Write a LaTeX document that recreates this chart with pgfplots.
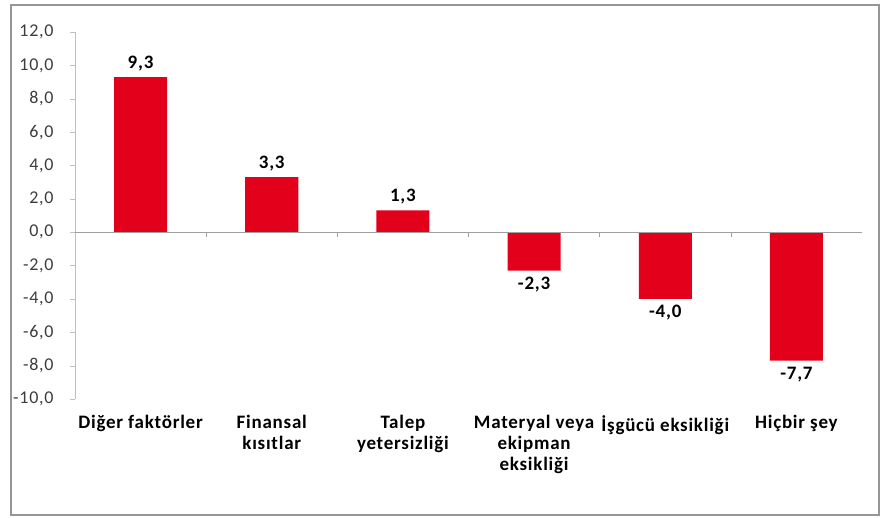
\documentclass[border=0pt]{standalone}
\usepackage{pgfplots}
\pgfplotsset{compat=1.18}
\usepackage{fontspec}
\setmainfont{Carlito}[LetterSpace=4]
\definecolor{barred}{RGB}{226,0,26}
\definecolor{axgray}{RGB}{191,191,191}
\definecolor{zerogray}{RGB}{160,160,160}
\definecolor{txtgray}{RGB}{60,60,60}
\definecolor{framegray}{RGB}{150,150,150}

\begin{document}
\begin{tikzpicture}
% whole image and outer frame, relative to the axis box (787 x 367 bp)
\path (-75bp,-119bp) rectangle (807bp,399bp);
\draw[framegray, line width=2bp] (-64bp,-116bp) rectangle (804bp,394bp);
\begin{axis}[
    at={(0,0)}, anchor=south west,
    scale only axis,
    width=787bp, height=367bp,
    ybar,
    bar width=53bp,
    xmin=-0.5, xmax=5.5,
    ymin=-10, ymax=12,
    enlargelimits=false,
    clip=false,
    axis y line*=left,
    axis x line*=bottom,
    x axis line style={draw=none},
    y axis line style={axgray},
    ytick={-10,-8,...,12},
    ytick style={axgray},
    xtick={0,...,5},
    major x tick style={draw=none},
    tick align=outside,
    major tick length=5bp,
    xticklabels={Diğer faktörler,{Finansal\\kısıtlar},{Talep\\yetersizliği},{Materyal veya\\ekipman\\eksikliği},İşgücü eksikliği,Hiçbir şey},
    x tick label style={font=\fontsize{19bp}{21bp}\selectfont\bfseries, align=center, text=black, yshift=-8bp},
    y tick label style={font=\fontsize{18bp}{20bp}\selectfont, text=txtgray, xshift=-13bp},
    /pgf/number format/.cd, fixed, fixed zerofill, precision=1, use comma, assume math mode=true,
    /pgfplots/.cd,
    nodes near coords={\pgfmathprintnumber[fixed,fixed zerofill,precision=1,use comma,assume math mode=true]{\pgfplotspointmeta}},
    nodes near coords align={vertical},
    every node near coord/.append style={font=\fontsize{19bp}{21bp}\selectfont\bfseries, text=black, inner sep=6bp},
    ]
\addplot[fill=barred, draw=none] coordinates {(0,9.3) (1,3.3) (2,1.3) (3,-2.3) (4,-4.0) (5,-7.7)};
\draw[zerogray] (axis cs:-0.5,0) -- (axis cs:5.5,0);
\pgfplotsinvokeforeach{0.5,1.5,2.5,3.5,4.5}{
  \draw[zerogray] (axis cs:#1,0) -- ([yshift=-5bp]axis cs:#1,0);
}
\end{axis}
\end{tikzpicture}
\end{document}
